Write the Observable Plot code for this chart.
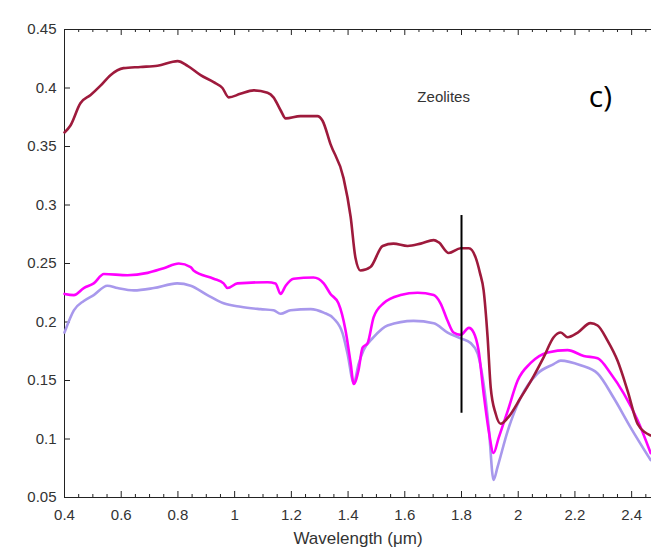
<!DOCTYPE html>
<html>
<head>
<meta charset="utf-8">
<script src="https://cdn.jsdelivr.net/npm/d3@7"></script>
<script src="https://cdn.jsdelivr.net/npm/@observablehq/plot@0.6"></script>
<style>
  html, body { margin: 0; padding: 0; background: #fff; }
  #chart svg { display: block; }
</style>
</head>
<body>
<div id="chart"></div>
<script>
// Wavelength (µm) / reflectance samples
const redWl = [0.40,0.421,0.456,0.492,0.527,0.562,0.608,0.668,0.728,0.799,0.834,0.88,0.926,0.957,0.979,1.02,1.067,1.116,1.137,1.162,1.18,1.232,1.292,1.31,1.338,1.384,1.409,1.426,1.444,1.479,1.522,1.56,1.61,1.656,1.702,1.72,1.755,1.797,1.826,1.85,1.865,1.878,1.892,1.903,1.92,1.938,1.963,2.008,2.055,2.09,2.125,2.15,2.174,2.21,2.255,2.28,2.315,2.35,2.386,2.421,2.467];
const redR  = [0.362,0.368,0.387,0.394,0.402,0.411,0.417,0.418,0.419,0.423,0.419,0.411,0.405,0.400,0.392,0.395,0.398,0.396,0.392,0.381,0.374,0.376,0.376,0.372,0.352,0.323,0.290,0.255,0.244,0.247,0.265,0.267,0.265,0.267,0.270,0.268,0.259,0.263,0.263,0.255,0.242,0.227,0.187,0.144,0.122,0.113,0.118,0.135,0.154,0.170,0.187,0.191,0.187,0.191,0.199,0.197,0.184,0.167,0.141,0.113,0.103];

const magWl = [0.40,0.433,0.468,0.503,0.539,0.622,0.693,0.75,0.803,0.845,0.855,0.926,0.961,0.975,1.01,1.116,1.144,1.162,1.18,1.208,1.278,1.314,1.338,1.366,1.391,1.409,1.42,1.437,1.451,1.469,1.49,1.525,1.585,1.645,1.702,1.726,1.751,1.772,1.797,1.826,1.843,1.86,1.878,1.896,1.913,1.931,1.963,1.998,2.044,2.104,2.174,2.231,2.28,2.326,2.372,2.421,2.467];
const magR  = [0.224,0.223,0.229,0.233,0.241,0.240,0.242,0.246,0.250,0.247,0.244,0.237,0.233,0.229,0.233,0.234,0.233,0.224,0.231,0.237,0.238,0.233,0.224,0.216,0.193,0.165,0.147,0.159,0.178,0.182,0.204,0.216,0.223,0.225,0.223,0.216,0.201,0.191,0.189,0.195,0.191,0.176,0.139,0.107,0.088,0.101,0.124,0.150,0.165,0.174,0.176,0.171,0.169,0.156,0.139,0.116,0.088];

const lavWl = [0.40,0.433,0.468,0.503,0.551,0.587,0.645,0.715,0.797,0.845,0.904,0.961,1.021,1.091,1.137,1.162,1.197,1.268,1.314,1.349,1.381,1.398,1.42,1.437,1.455,1.49,1.539,1.631,1.702,1.751,1.797,1.832,1.857,1.878,1.896,1.913,1.927,1.963,2.008,2.068,2.125,2.15,2.22,2.28,2.337,2.396,2.467];
const lavR  = [0.191,0.210,0.218,0.223,0.231,0.229,0.227,0.229,0.233,0.231,0.223,0.216,0.213,0.211,0.210,0.207,0.210,0.211,0.208,0.203,0.190,0.173,0.148,0.164,0.176,0.187,0.197,0.201,0.199,0.191,0.186,0.182,0.173,0.147,0.110,0.065,0.076,0.107,0.135,0.156,0.164,0.167,0.163,0.156,0.135,0.110,0.082];

const xMajorTicks = [0.4,0.6,0.8,1.0,1.2,1.4,1.6,1.8,2.0,2.2,2.4];
const xMinorTicks = [0.45,0.5,0.55,0.65,0.7,0.75,0.85,0.9,0.95,1.05,1.1,1.15,1.25,1.3,1.35,1.45,1.5,1.55,1.65,1.7,1.75,1.85,1.9,1.95,2.05,2.1,2.15,2.25,2.3,2.35,2.45];
const yTicks = [0.05,0.1,0.15,0.2,0.25,0.3,0.35,0.4,0.45];
const marker = {x: 1.8, y1: 0.122, y2: 0.291};
const notes = [{x: 1.737, y: 0.392, text: "Zeolites"}];
const panel = [{x: 2.29, y: 0.392, text: "c)"}];

const toRows = (wl, r) => wl.map((w, i) => ({w, r: r[i]}));
const red = toRows(redWl, redR), mag = toRows(magWl, magR), lav = toRows(lavWl, lavR);
const fmt = d => String(+d.toFixed(2));
const none = () => "";

const W = 651, H = 550, ML = 64, MR = 0, MT = 29, MB = 53;
const innerW = W - ML - MR, innerH = H - MT - MB;
const tickStyle = {stroke: "#222", strokeWidth: 1};

const chart = Plot.plot({
  width: W,
  height: H,
  marginLeft: ML,
  marginRight: MR,
  marginTop: MT,
  marginBottom: MB,
  style: {fontFamily: "Liberation Sans, Arial, sans-serif", fontSize: "15px", color: "#333", background: "#fff"},
  x: {domain: [0.4, 2.47]},
  y: {domain: [0.05, 0.45]},
  marks: [
    Plot.ruleY([0.05, 0.45], {stroke: "#222", strokeWidth: 1}),
    Plot.ruleX([0.4], {stroke: "#222", strokeWidth: 1}),
    // inward tick marks (MATLAB box style)
    Plot.ruleX(xMinorTicks, {x: d => d, ...tickStyle, insetTop: innerH - 3}),
    Plot.ruleX(xMinorTicks, {x: d => d, ...tickStyle, insetBottom: innerH - 3}),
    Plot.ruleX(xMajorTicks, {x: d => d, ...tickStyle, insetTop: innerH - 6}),
    Plot.ruleX(xMajorTicks, {x: d => d, ...tickStyle, insetBottom: innerH - 6}),
    Plot.ruleY(yTicks, {y: d => d, ...tickStyle, insetRight: innerW - 6}),
    // tick labels
    Plot.axisX({ticks: xMajorTicks, tickSize: 0, tickPadding: 12, tickFormat: fmt, label: null, fontSize: 15, fill: "#333"}),
    Plot.axisX({ticks: [], tickSize: 0, tickFormat: none, label: "Wavelength (μm)", labelAnchor: "center", labelOffset: 46, labelArrow: "none", fontSize: 17, fill: "#333"}),
    Plot.axisY({ticks: yTicks, tickSize: 0, tickPadding: 8, tickFormat: fmt, label: null, fontSize: 15, fill: "#333"}),
    Plot.line(lav, {x: "w", y: "r", stroke: "#a898ec", strokeWidth: 2.6, curve: "monotone-x"}),
    Plot.line(mag, {x: "w", y: "r", stroke: "#ff00ff", strokeWidth: 2.6, curve: "monotone-x"}),
    Plot.line(red, {x: "w", y: "r", stroke: "#9e1a3c", strokeWidth: 2.6, curve: "monotone-x"}),
    Plot.ruleX([marker], {x: "x", y1: "y1", y2: "y2", stroke: "#000", strokeWidth: 2}),
    Plot.text(notes, {x: "x", y: "y", text: "text", fontSize: 15, fill: "#333", fontFamily: "Liberation Sans, Arial, sans-serif"}),
    Plot.text(panel, {x: "x", y: "y", text: "text", fontSize: 30, fill: "#000", fontFamily: "Open Sans, Liberation Sans, sans-serif"})
  ]
});
document.getElementById("chart").appendChild(chart);
</script>
</body>
</html>
